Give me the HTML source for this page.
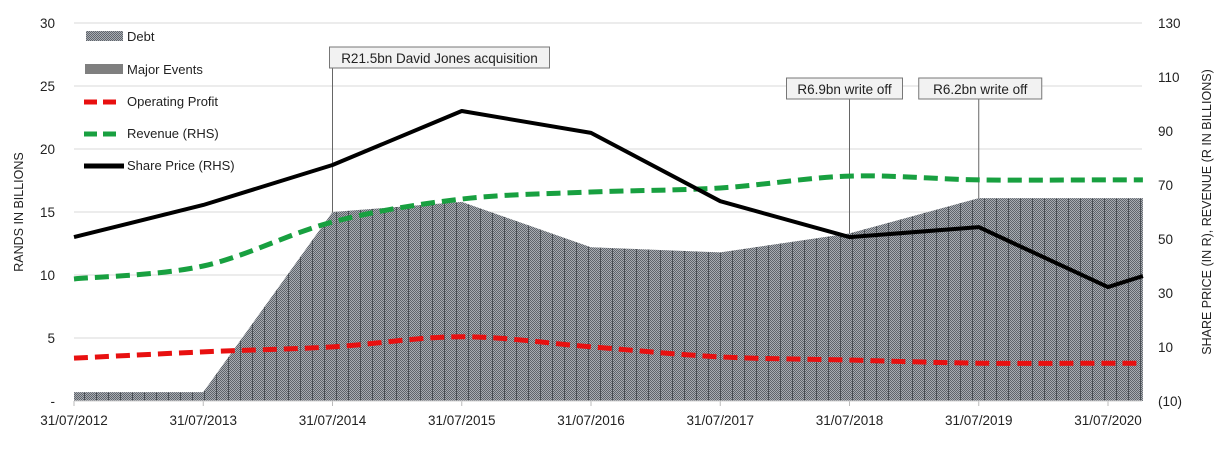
<!DOCTYPE html>
<html><head><meta charset="utf-8"><style>
body{margin:0;background:#fff;}
svg text{font-family:"Liberation Sans",sans-serif;fill:#222;}
</style></head><body>
<svg id="chart" width="1225" height="447" xmlns="http://www.w3.org/2000/svg">
<defs>
<pattern id="dots" width="2" height="2" patternUnits="userSpaceOnUse"><rect width="2" height="2" fill="#a8acb2"/><rect width="1" height="1" fill="#5f646b"/><rect x="1" y="1" width="1" height="1" fill="#5f646b"/></pattern>
<pattern id="debtpat" width="12" height="10" patternUnits="userSpaceOnUse"><rect width="12" height="10" fill="url(#dots)"/><rect x="0" width="1" height="10" fill="#4a4f55"/></pattern>
</defs>
<g id="grid"></g>
<g id="debt"></g>
<g id="events"></g>
<g id="lines"></g>
<g id="axes"></g>
<text transform="translate(23,212) rotate(-90)" text-anchor="middle" font-size="12.5">RANDS IN BILLIONS</text>
<text transform="translate(1211,212) rotate(-90)" text-anchor="middle" font-size="12.5">SHARE PRICE (IN R), REVENUE (R IN BILLIONS)</text>
<g font-size="13">
<rect x="86" y="31" width="37" height="10" fill="url(#dots)"/><text x="127" y="41">Debt</text>
<rect x="85" y="64" width="38" height="10" fill="#7f7f7f"/><text x="127" y="74">Major Events</text>
<line x1="84" y1="102" x2="118" y2="102" stroke="#e81010" stroke-width="5" stroke-dasharray="13,6"/><text x="127" y="106">Operating Profit</text>
<line x1="84" y1="134" x2="118" y2="134" stroke="#18a040" stroke-width="5" stroke-dasharray="13,6"/><text x="127" y="138">Revenue (RHS)</text>
<line x1="84" y1="166" x2="124" y2="166" stroke="#000" stroke-width="5"/><text x="127" y="170">Share Price (RHS)</text>
</g>
</svg>
<script>
const xLabels=["31/07/2012","31/07/2013","31/07/2014","31/07/2015","31/07/2016","31/07/2017","31/07/2018","31/07/2019","31/07/2020"];
const xs=[0,1,2,3,4,5,6,7,8,8.27];
const debt=[0.7,0.7,15,15.8,12.2,11.8,13.3,16.1,16.1,16.1];
const opProfit=[3.4,3.9,4.3,5.1,4.3,3.5,3.25,3.0,3.0,3.0];
const revenue=[35.2,40,56.3,64.8,67.4,68.9,73.3,71.9,71.9,71.9];
const sharePrice=[50.7,62.6,77.4,97.4,89.3,64,50.7,54.4,32.2,36.3];
const leftTicks=[0,5,10,15,20,25,30];
const rightTicks=[-10,10,30,50,70,90,110,130];
const events=[{x:2,label:"R21.5bn David Jones acquisition",ly:47,off:-3,w:220},{x:6,label:"R6.9bn write off",ly:78,off:-63,w:116},{x:7,label:"R6.2bn write off",ly:78,off:-60,w:123}];
const NS="http://www.w3.org/2000/svg";
const X=v=>74+v*129.25, YL=v=>401-v*12.6, YR=v=>401-(v+10)*2.7;
function mk(p,t,a){const e=document.createElementNS(NS,t);for(const k in a)e.setAttribute(k,a[k]);p.appendChild(e);return e;}
const G=id=>document.getElementById(id);
leftTicks.forEach(t=>{
 if(t>0){const l=mk(G('grid'),'line',{x1:74,x2:1142,y1:YL(t),y2:YL(t),stroke:'#d9d9d9'});
 }
 const tx=mk(G('axes'),'text',{x:55,y:YL(t)+5,'text-anchor':'end','font-size':13.5});tx.textContent=t===0?'-':t;
 
});
rightTicks.forEach(t=>{const tx=mk(G('axes'),'text',{x:1158,y:YR(t)+5,'font-size':13.5});tx.textContent=t<0?'('+(-t)+')':t;
 });
xLabels.forEach((s,i)=>{const tx=mk(G('axes'),'text',{x:X(i),y:425,'text-anchor':'middle','font-size':13.5});tx.textContent=s;
 
 mk(G('axes'),'line',{x1:X(i),x2:X(i),y1:401,y2:406,stroke:'#bbb'});});
mk(G('axes'),'line',{x1:74,x2:1142,y1:401,y2:401,stroke:'#d0d0d0'});
let d='M'+X(xs[0])+','+YL(0);xs.forEach((x,i)=>d+=' L'+X(x)+','+YL(debt[i]));d+=' L'+X(xs[xs.length-1])+','+YL(0)+'Z';
const da=mk(G('debt'),'path',{d:d,fill:'url(#debtpat)'});

events.forEach(ev=>{
 const cx=X(ev.x), bx=cx+ev.off;
 mk(G('events'),'line',{x1:cx,x2:cx,y1:ev.ly+21,y2:YL(debt[ev.x]),stroke:'#666'});
 const r=mk(G('events'),'rect',{x:bx,y:ev.ly,width:ev.w,height:21,fill:'#f2f2f2',stroke:'#777'});
 
 const t=mk(G('events'),'text',{x:bx+ev.w/2,y:ev.ly+16,'text-anchor':'middle','font-size':13.5});t.textContent=ev.label;
 
});
function smooth(pts){let s='M'+pts[0][0]+','+pts[0][1];
 for(let i=0;i<pts.length-1;i++){const p0=pts[Math.max(0,i-1)],p1=pts[i],p2=pts[i+1],p3=pts[Math.min(pts.length-1,i+2)];
 s+=' C'+(p1[0]+(p2[0]-p0[0])/6)+','+(p1[1]+(p2[1]-p0[1])/6)+' '+(p2[0]-(p3[0]-p1[0])/6)+','+(p2[1]-(p3[1]-p1[1])/6)+' '+p2[0]+','+p2[1];}return s;}
const op=mk(G('lines'),'path',{d:smooth(xs.map((x,i)=>[X(x),YL(opProfit[i])])),fill:'none',stroke:'#e81010','stroke-width':5,'stroke-dasharray':'14,7'});

const rv=mk(G('lines'),'path',{d:smooth(xs.map((x,i)=>[X(x),YR(revenue[i])])),fill:'none',stroke:'#18a040','stroke-width':5,'stroke-dasharray':'14,7'});

const sp=mk(G('lines'),'polyline',{points:xs.map((x,i)=>X(x)+','+YR(sharePrice[i])).join(' '),fill:'none',stroke:'#000','stroke-width':4,'stroke-linejoin':'round'});

</script>
</body></html>
